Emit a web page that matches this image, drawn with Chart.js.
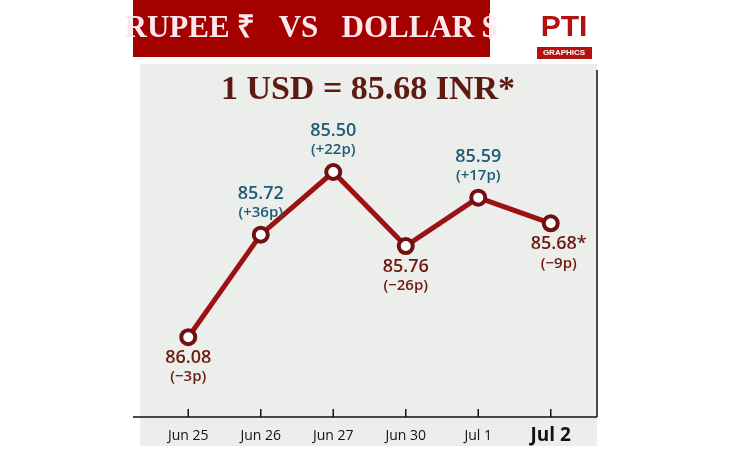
<!DOCTYPE html>
<html>
<head>
<meta charset="utf-8">
<script src="https://cdn.jsdelivr.net/npm/chart.js@4"></script>
<style>
  body { margin: 0; background: #fff; }
  #wrap { width: 750px; height: 450px; position: relative; }
</style>
</head>
<body>
<div id="wrap"><canvas id="rupeeChart" width="750" height="450"></canvas></div>
<script>
const labels = ['Jun 25', 'Jun 26', 'Jun 27', 'Jun 30', 'Jul 1', 'Jul 2']
const rates = [86.08, 85.72, 85.50, 85.76, 85.59, 85.68]
const rateText = ['86.08', '85.72', '85.50', '85.76', '85.59', '85.68*']
const changes = ['(\u22123p)', '(+36p)', '(+22p)', '(\u221226p)', '(+17p)', '(\u22129p)']

// background, title, labels and the axis are drawn around the plot
const decor = {
  id: 'decor',
  beforeDraw(chart) {
    const c = chart.ctx
    c.save()
    c.fillStyle = '#eceeec'
    c.fillRect(140, 64, 457, 382)
    c.restore()
  },
  afterDraw(chart) {
    const c = chart.ctx
    const x = chart.scales.x
    const y = chart.scales.y
    c.save()
    // title bar
    c.fillStyle = '#a30000'
    c.fillRect(133, 0, 357, 57)
    c.fillStyle = '#fde8ee'
    c.font = 'bold 31px "Liberation Serif", serif'
    c.textAlign = 'center'
    c.textBaseline = 'middle'
    c.fillText('RUPEE \u20b9   VS   DOLLAR $', 311, 29)
    // PTI logo
    c.fillStyle = '#b31010'
    c.font = 'bold 30px "Liberation Sans", sans-serif'
    c.fillText('PTI', 564, 28)
    c.fillRect(537, 47, 55, 12)
    c.fillStyle = '#fff'
    c.font = 'bold 8px "Liberation Sans", sans-serif'
    c.fillText('GRAPHICS', 564, 53)
    // subtitle
    c.fillStyle = '#5c1a10'
    c.font = 'bold 34px "Liberation Serif", serif'
    c.fillText('1 USD = 85.68 INR*', 368, 90)
    // axis
    c.strokeStyle = '#111'
    c.lineWidth = 1.5
    c.beginPath()
    c.moveTo(133, 417); c.lineTo(597, 417)
    c.moveTo(597, 70); c.lineTo(597, 417)
    c.stroke()
    labels.forEach((lab, i) => {
      const px = x.getPixelForValue(i)
      c.beginPath(); c.moveTo(px, 409); c.lineTo(px, 417); c.stroke()
      c.fillStyle = '#111'
      c.font = i === labels.length - 1 ? 'bold 19px "Open Sans", sans-serif' : '14px "Open Sans", sans-serif'
      c.fillText(lab, px, 436)
      // value labels: above the point when the rupee gained, below when it fell
      const py = y.getPixelForValue(rates[i])
      const up = changes[i].indexOf('+') >= 0
      c.fillStyle = up ? '#1d5b74' : '#6e1a10'
      c.font = '600 18px "Open Sans", sans-serif'
      const lx = i === labels.length - 1 ? px + 8 : px
      const top = up ? py - 41 : py + 21
      c.fillText(rateText[i], lx, top)
      c.font = '600 15px "Open Sans", sans-serif'
      c.fillText(changes[i], lx, top + 19)
    })
    c.restore()
  }
}

const config = {
  type: 'line',
  data: {
    labels: labels,
    datasets: [{
      data: rates,
      borderColor: '#9c1212',
      borderWidth: 5,
      pointRadius: 7,
      pointBorderWidth: 4,
      pointBorderColor: '#701010',
      pointBackgroundColor: '#fff',
      tension: 0,
    }],
  },
  options: {
    responsive: false,
    animation: false,
    layout: { padding: { left: 152, right: 163, top: 70, bottom: 33 } },
    plugins: { legend: { display: false }, tooltip: { enabled: false } },
    scales: {
      x: { display: false, offset: true },
      y: { display: false, reverse: true, min: 85.142, max: 86.36 },
    },
  },
  plugins: [decor],
}

new Chart(document.getElementById('rupeeChart'), config)
</script>
</body>
</html>
